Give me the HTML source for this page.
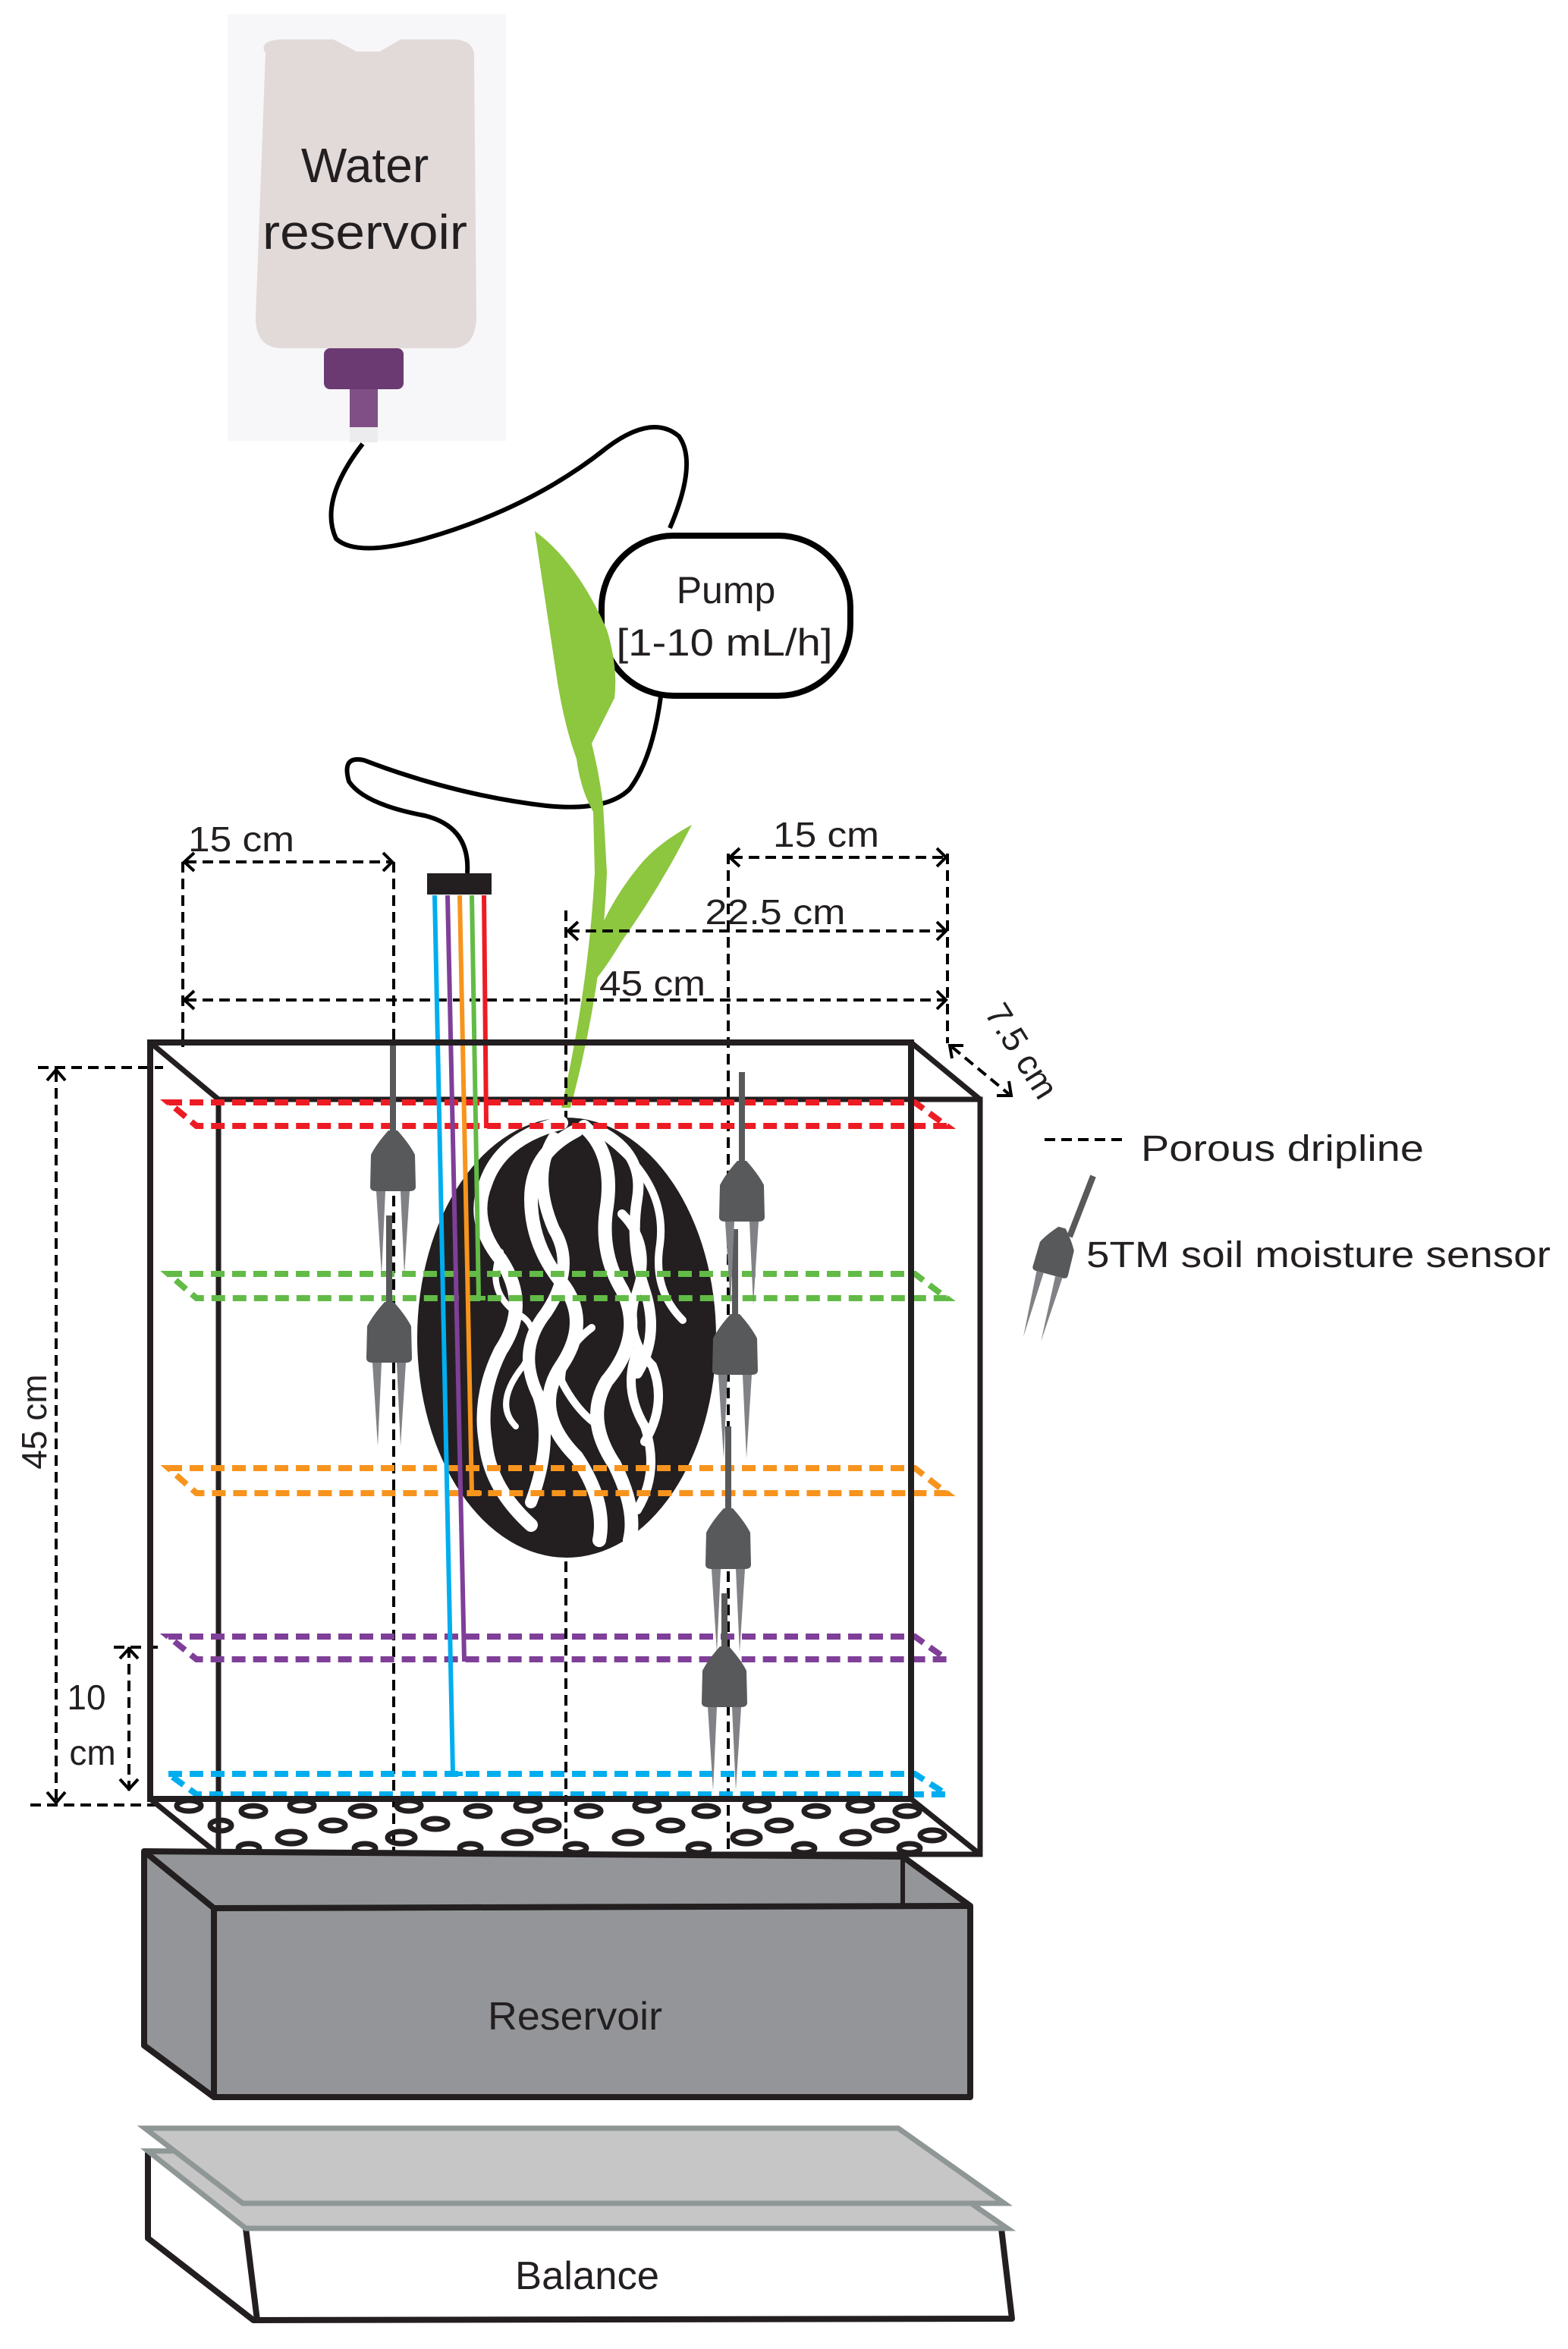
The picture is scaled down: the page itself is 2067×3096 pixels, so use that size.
<!DOCTYPE html>
<html><head><meta charset="utf-8"><style>html,body{margin:0;padding:0;background:#fff}svg{display:block}</style></head>
<body>
<svg xmlns="http://www.w3.org/2000/svg" width="2067" height="3096" viewBox="0 0 2067 3096" font-family="Liberation Sans, sans-serif">
<defs>
<g id="sensor">
  <path d="M-30,74 L-29,32 Q-22,18 -6,0 L6,0 Q22,18 29,32 L30,74 Q30,80 22,80 L-22,80 Q-30,80 -30,74 Z" fill="#58595b"/>
  <path d="M-22,80 L-10,80 L-15,190 Z" fill="#808285"/>
  <path d="M10,80 L22,80 L15,190 Z" fill="#808285"/>
</g>
</defs>
<!-- bottle -->
<rect x="300" y="19" width="367" height="562" fill="#f7f6f8"/>
<path d="M350,70 Q340,54 370,52 L440,52 Q455,60 470,68 L500,68 Q515,60 528,52 L600,52 Q628,54 625,80 L628,420 Q626,459 595,459 L372,459 Q338,459 337,420 Z" fill="#e2d9d9"/>
<rect x="427" y="459" width="105" height="54" rx="8" fill="#6b3a73"/>
<rect x="461" y="513" width="37" height="50" fill="#7f4f86"/>
<rect x="461" y="563" width="37" height="20" fill="#ecebed"/>
<text x="481" y="240" font-size="64" text-anchor="middle" fill="#231f20">Water</text>
<text x="481" y="328" font-size="64" text-anchor="middle" fill="#231f20" textLength="270" lengthAdjust="spacingAndGlyphs">reservoir</text>
<!-- tubes -->
<path d="M478,585 Q420,660 443,710 Q470,735 560,710 Q700,670 800,590 Q860,545 895,575 Q920,610 883,696" fill="none" stroke="#000" stroke-width="6"/>
<path d="M871,918 Q860,1000 830,1040 Q800,1070 720,1062 Q600,1048 480,1002 Q450,995 460,1030 Q480,1060 560,1075 Q620,1090 616,1151" fill="none" stroke="#000" stroke-width="6"/>
<!-- pump -->
<rect x="793" y="706" width="328" height="211" rx="95" fill="#fff" stroke="#000" stroke-width="8"/>
<text x="957" y="795" font-size="50" text-anchor="middle" fill="#231f20">Pump</text>
<text x="955" y="864" font-size="50" text-anchor="middle" fill="#231f20" textLength="285" lengthAdjust="spacingAndGlyphs">[1-10 mL/h]</text>
<!-- plant -->
<path d="M705,700 Q760,740 800,830 Q815,880 810,920 Q790,960 780,980 Q790,1020 795,1060 L800,1150 Q795,1300 752,1460 L740,1460 Q776,1300 784,1150 L782,1070 Q765,1040 760,1000 Q745,960 735,900 Q720,800 705,700 Z" fill="#8dc63f"/>
<path d="M912,1087 Q870,1110 848,1135 Q800,1190 775,1265 L768,1310 Q790,1290 820,1240 Q870,1170 912,1087 Z" fill="#8dc63f"/>
<!-- dimension lines -->
<g stroke="#000" stroke-width="4" fill="none" stroke-dasharray="14 8">
  <line x1="241" y1="1136" x2="241" y2="1380"/>
  <line x1="519" y1="1136" x2="519" y2="2480"/>
  <line x1="746" y1="1200" x2="746" y2="2480"/>
  <line x1="960" y1="1125" x2="960" y2="2480"/>
  <line x1="1249" y1="1125" x2="1249" y2="1375"/>
  <line x1="245" y1="1136" x2="515" y2="1136"/>
  <line x1="965" y1="1130" x2="1245" y2="1130"/>
  <line x1="750" y1="1227" x2="1245" y2="1227"/>
  <line x1="245" y1="1318" x2="1245" y2="1318"/>
  <line x1="1255" y1="1380" x2="1330" y2="1442"/>
  <line x1="50" y1="1407" x2="215" y2="1407"/>
  <line x1="40" y1="2379" x2="215" y2="2379"/>
  <line x1="74" y1="1412" x2="74" y2="2374"/>
  <line x1="170" y1="2171" x2="170" y2="2360"/>
  <line x1="150" y1="2171" x2="215" y2="2171"/>
  <line x1="1377" y1="1502" x2="1480" y2="1502"/>
</g>
<g stroke="#000" stroke-width="4" fill="none">
  <polyline points="256,1124 243,1136 256,1148"/><polyline points="505,1124 517,1136 505,1148"/>
  <polyline points="975,1118 962,1130 975,1142"/><polyline points="1235,1118 1247,1130 1235,1142"/>
  <polyline points="762,1215 749,1227 762,1239"/><polyline points="1235,1215 1247,1227 1235,1239"/>
  <polyline points="256,1306 243,1318 256,1330"/><polyline points="1235,1306 1247,1318 1235,1330"/>
  <polyline points="1255,1395 1252,1378 1270,1378"/><polyline points="1330,1425 1333,1444 1314,1444"/>
  <polyline points="62,1424 74,1410 86,1424"/><polyline points="62,2362 74,2376 86,2362"/>
  <polyline points="158,2186 170,2173 182,2186"/><polyline points="158,2345 170,2358 182,2345"/>
</g>
<text x="318" y="1122" font-size="46" text-anchor="middle" fill="#231f20" textLength="140" lengthAdjust="spacingAndGlyphs">15 cm</text>
<text x="1089" y="1116" font-size="46" text-anchor="middle" fill="#231f20" textLength="140" lengthAdjust="spacingAndGlyphs">15 cm</text>
<text x="1022" y="1218" font-size="46" text-anchor="middle" fill="#231f20" textLength="185" lengthAdjust="spacingAndGlyphs">22.5 cm</text>
<text x="860" y="1312" font-size="46" text-anchor="middle" fill="#231f20" textLength="140" lengthAdjust="spacingAndGlyphs">45 cm</text>
<text transform="translate(1347,1385) rotate(58)" font-size="46" text-anchor="middle" fill="#231f20" dy="16">7.5 cm</text>
<text transform="translate(45,1874) rotate(-90)" font-size="46" text-anchor="middle" fill="#231f20" dy="16">45 cm</text>
<text x="114" y="2253" font-size="46" text-anchor="middle" fill="#231f20">10</text>
<text x="122" y="2326" font-size="46" text-anchor="middle" fill="#231f20">cm</text>
<!-- legend -->
<text x="1504" y="1530" font-size="48" fill="#231f20" textLength="373" lengthAdjust="spacingAndGlyphs">Porous dripline</text>
<text x="1432" y="1670" font-size="48" fill="#231f20" textLength="612" lengthAdjust="spacingAndGlyphs">5TM soil moisture sensor</text>
<line x1="1441" y1="1550" x2="1410" y2="1630" stroke="#58595b" stroke-width="8"/>
<g transform="translate(1400,1618) rotate(15) scale(0.8)"><use href="#sensor"/></g>
<!-- ellipse and roots -->
<ellipse cx="747" cy="1763" rx="197" ry="290" fill="#231f20"/>
<g fill="none" stroke="#fff" stroke-linecap="round">
  <path d="M740,1480 Q660,1500 640,1560 Q620,1610 660,1660 Q700,1720 660,1780 Q630,1840 640,1900 Q645,1960 700,2010" stroke-width="18"/>
  <path d="M760,1490 Q700,1520 700,1580 Q700,1640 740,1690 Q780,1740 740,1800 Q700,1860 760,1920 Q800,1980 790,2030" stroke-width="18"/>
  <path d="M770,1485 Q810,1520 800,1590 Q790,1650 820,1700 Q850,1760 800,1820 Q770,1870 810,1930 Q840,1990 830,2030" stroke-width="18"/>
  <path d="M790,1490 Q850,1520 840,1580 Q830,1640 850,1700 Q870,1760 840,1810" stroke-width="14"/>
  <path d="M730,1500 Q700,1550 730,1620 Q760,1670 720,1730 Q680,1780 710,1840 Q730,1900 700,1980" stroke-width="16"/>
  <path d="M660,1650 Q640,1700 680,1730 Q720,1750 690,1800 Q650,1850 680,1880" stroke-width="8"/>
  <path d="M820,1600 Q860,1640 840,1700 Q820,1760 860,1800 Q880,1850 850,1900" stroke-width="12"/>
  <path d="M780,1750 Q740,1780 740,1820 Q760,1860 790,1880" stroke-width="10"/>
  <path d="M840,1780 Q820,1830 850,1880 Q870,1940 840,1990" stroke-width="12"/>
  <path d="M800,1500 Q880,1560 870,1640 Q860,1700 900,1740" stroke-width="10"/>
</g>
<!-- box back lines -->
<g stroke="#231f20" stroke-width="7" fill="none">
  <rect x="288" y="1449" width="1004" height="995"/>
  <line x1="198" y1="1374" x2="288" y2="1449"/>
  <line x1="1201" y1="1374" x2="1292" y2="1449"/>
  <line x1="198" y1="2371" x2="288" y2="2444"/>
  <line x1="1201" y1="2371" x2="1292" y2="2444"/>
</g>
<!-- holes -->
<g fill="none" stroke="#231f20" stroke-width="7">
  <ellipse cx="249" cy="2380" rx="16" ry="7"/><ellipse cx="398" cy="2380" rx="16" ry="7"/><ellipse cx="539" cy="2380" rx="16" ry="7"/><ellipse cx="696" cy="2380" rx="16" ry="7"/><ellipse cx="853" cy="2380" rx="16" ry="7"/><ellipse cx="998" cy="2380" rx="16" ry="7"/><ellipse cx="1134" cy="2380" rx="16" ry="7"/>
  <ellipse cx="334" cy="2387" rx="16" ry="7"/><ellipse cx="478" cy="2387" rx="16" ry="7"/><ellipse cx="630" cy="2387" rx="16" ry="7"/><ellipse cx="776" cy="2387" rx="16" ry="7"/><ellipse cx="931" cy="2387" rx="16" ry="7"/><ellipse cx="1076" cy="2387" rx="16" ry="7"/><ellipse cx="1196" cy="2387" rx="16" ry="7"/>
  <ellipse cx="291" cy="2406" rx="14" ry="7"/><ellipse cx="439" cy="2406" rx="16" ry="7"/><ellipse cx="574" cy="2404" rx="16" ry="7"/><ellipse cx="721" cy="2406" rx="16" ry="7"/><ellipse cx="884" cy="2406" rx="16" ry="7"/><ellipse cx="1027" cy="2406" rx="16" ry="7"/><ellipse cx="1167" cy="2406" rx="16" ry="7"/><ellipse cx="1229" cy="2419" rx="16" ry="7"/>
  <ellipse cx="384" cy="2422" rx="18" ry="8"/><ellipse cx="529" cy="2422" rx="18" ry="8"/><ellipse cx="682" cy="2422" rx="18" ry="8"/><ellipse cx="828" cy="2422" rx="18" ry="8"/><ellipse cx="984" cy="2422" rx="18" ry="8"/><ellipse cx="1128" cy="2422" rx="18" ry="8"/>
  <ellipse cx="328" cy="2436" rx="14" ry="6"/><ellipse cx="481" cy="2436" rx="14" ry="6"/><ellipse cx="620" cy="2436" rx="14" ry="6"/><ellipse cx="759" cy="2436" rx="14" ry="6"/><ellipse cx="921" cy="2436" rx="14" ry="6"/><ellipse cx="1060" cy="2436" rx="14" ry="6"/><ellipse cx="1199" cy="2436" rx="14" ry="6"/>
</g>
<!-- driplines -->
<g fill="none" stroke-width="8" stroke-dasharray="18 10">
  <path d="M222,1453 L1206,1453 L1248,1484 L259,1484 Z" stroke="#ed1c24"/>
  <path d="M222,1679 L1206,1679 L1248,1711 L259,1711 Z" stroke="#62bb46"/>
  <path d="M222,1935 L1206,1935 L1248,1968 L259,1968 Z" stroke="#f7941d"/>
  <path d="M222,2157 L1206,2157 L1248,2187 L259,2187 Z" stroke="#7f3f98"/>
  <path d="M222,2338 L1206,2338 L1248,2365 L259,2365 Z" stroke="#00aeef"/>
</g>
<!-- wires -->
<g fill="none" stroke-width="6">
  <polyline points="573,1180 597,2338 610,2338" stroke="#00aeef"/>
  <polyline points="590,1180 612,2187 625,2187" stroke="#7f3f98"/>
  <polyline points="606,1180 622,1968 635,1968" stroke="#f7941d"/>
  <polyline points="622,1180 631,1711 640,1711" stroke="#62bb46"/>
  <polyline points="638,1180 641,1484 655,1484" stroke="#ed1c24"/>
</g>
<rect x="563" y="1151" width="85" height="28" fill="#231f20"/>
<!-- sensors -->
<g stroke="#58595b" stroke-width="8">
  <line x1="518" y1="1377" x2="518" y2="1495"/>
  <line x1="513" y1="1602" x2="513" y2="1720"/>
  <line x1="978" y1="1413" x2="978" y2="1534"/>
  <line x1="969" y1="1620" x2="969" y2="1736"/>
  <line x1="960" y1="1880" x2="960" y2="1992"/>
  <line x1="955" y1="2100" x2="955" y2="2176"/>
</g>
<use href="#sensor" x="518" y="1490"/>
<use href="#sensor" x="513" y="1716"/>
<use href="#sensor" x="978" y="1530"/>
<use href="#sensor" x="969" y="1732"/>
<use href="#sensor" x="960" y="1988"/>
<use href="#sensor" x="955" y="2170"/>
<!-- box front -->
<g stroke="#231f20" stroke-width="8" fill="none">
  <rect x="198" y="1374" width="1003" height="997"/>
</g>
<!-- reservoir -->
<path d="M190,2440 L1190,2447 L1279,2512 L1279,2764 L282,2764 L190,2696 Z" fill="#939598" stroke="#231f20" stroke-width="8" stroke-linejoin="round"/>
<path d="M190,2440 L282,2515 L1279,2512" fill="none" stroke="#231f20" stroke-width="8"/>
<line x1="282" y1="2515" x2="282" y2="2764" stroke="#231f20" stroke-width="8"/>
<line x1="1190" y1="2447" x2="1190" y2="2512" stroke="#231f20" stroke-width="6"/>
<text x="758" y="2675" font-size="52" text-anchor="middle" fill="#231f20" textLength="230" lengthAdjust="spacingAndGlyphs">Reservoir</text>
<!-- balance -->
<path d="M195,2837 L195,2950 L334,3058 L1334,3056 L1320,2937" fill="#fff" stroke="#231f20" stroke-width="8" stroke-linejoin="round"/>
<line x1="324" y1="2937" x2="339" y2="3058" stroke="#231f20" stroke-width="8"/>
<path d="M195,2835 L1180,2835 L1328,2937 L324,2937 Z" fill="#c6c6c6" stroke="#8f9796" stroke-width="7"/>
<path d="M191,2805 L1184,2805 L1324,2904 L320,2904 Z" fill="#c6c6c6" stroke="#8f9796" stroke-width="7"/>
<text x="774" y="3017" font-size="52" text-anchor="middle" fill="#231f20" textLength="190" lengthAdjust="spacingAndGlyphs">Balance</text>
</svg>
</body></html>
